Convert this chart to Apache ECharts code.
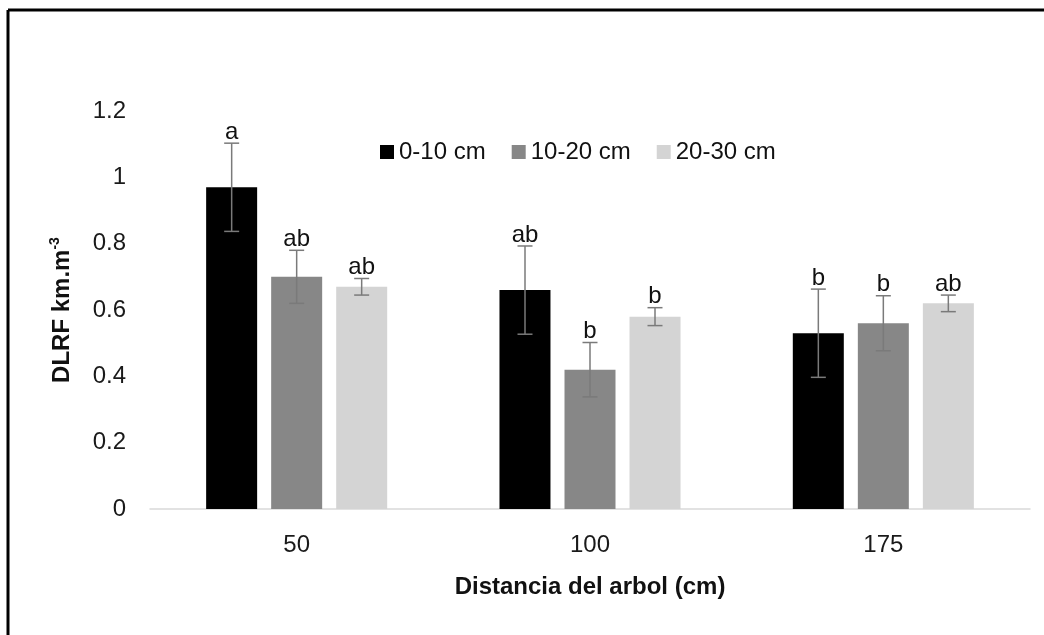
<!DOCTYPE html>
<html>
<head>
<meta charset="utf-8">
<script src="https://cdn.jsdelivr.net/npm/echarts@6/dist/echarts.min.js"></script>
<style>
html,body{margin:0;padding:0;background:#fff;}
#chart{width:1044px;height:635px;}
</style>
</head>
<body>
<div id="chart"></div>
<script>
const categories = ['50', '100', '175'];
const seriesNames = ['0-10 cm', '10-20 cm', '20-30 cm'];
const values0 = [0.97, 0.66, 0.53];
const values1 = [0.70, 0.42, 0.56];
const values2 = [0.67, 0.58, 0.62];
const errors0 = [0.133, 0.133, 0.133];
const errors1 = [0.08, 0.082, 0.083];
const errors2 = [0.025, 0.027, 0.025];
const letters0 = ['a', 'ab', 'b'];
const letters1 = ['ab', 'b', 'b'];
const letters2 = ['ab', 'b', 'ab'];
const yTicks = [0, 0.2, 0.4, 0.6, 0.8, 1, 1.2];

const FONT = 'Liberation Sans, Arial, sans-serif';
const colors = ['#000000', '#878787', '#d4d4d4'];
const BAR_W = 51, BAR_GAP = 14;
const allValues = [values0, values1, values2];
const allErrors = [errors0, errors1, errors2];
const allLetters = [letters0, letters1, letters2];

const chart = echarts.init(document.getElementById('chart'), null, {renderer: 'canvas'});

const barSeries = seriesNames.map((name, i) => ({
  name: name,
  type: 'bar',
  data: allValues[i],
  barWidth: BAR_W,
  barGap: (BAR_GAP / BAR_W * 100).toFixed(1) + '%',
  itemStyle: {color: colors[i]},
  z: 2
}));

const errSeries = seriesNames.map((name, i) => ({
  name: name + ' err',
  type: 'custom',
  z: 5,
  data: categories.map((c, k) => [k, allValues[i][k], allErrors[i][k]]),
  renderItem: function (params, api) {
    const k = api.value(0);
    const v = api.value(1);
    const e = api.value(2);
    const letter = allLetters[i][k];
    const off = (i - 1) * (BAR_W + BAR_GAP);
    const hi = api.coord([k, v + e]);
    const lo = api.coord([k, v - e]);
    const x = hi[0] + off;
    const cap = 7.5;
    const st = {stroke: '#7a7a7a', lineWidth: 1.5};
    return {
      type: 'group',
      children: [
        {type: 'line', shape: {x1: x, y1: hi[1], x2: x, y2: lo[1]}, style: st},
        {type: 'line', shape: {x1: x - cap, y1: hi[1], x2: x + cap, y2: hi[1]}, style: st},
        {type: 'line', shape: {x1: x - cap, y1: lo[1], x2: x + cap, y2: lo[1]}, style: st},
        {type: 'text', x: x, y: hi[1] + 1,
         style: {text: letter, fontFamily: FONT, fontSize: 24, fill: '#111',
                 align: 'center', verticalAlign: 'bottom'}}
      ]
    };
  }
}));

const option = {
  animation: false,
  backgroundColor: '#ffffff',
  textStyle: {fontFamily: FONT},
  grid: {left: 150, right: 14, top: 111, bottom: 126, containLabel: false},
  legend: {
    data: seriesNames,
    left: 380, top: 140,
    padding: 0,
    itemWidth: 14, itemHeight: 14, itemGap: 26,
    icon: 'rect',
    textStyle: {fontFamily: FONT, fontSize: 24, color: '#111'}
  },
  xAxis: {
    type: 'category',
    data: categories,
    axisLine: {show: true, lineStyle: {color: '#d9d9d9', width: 1.5}},
    axisTick: {show: false},
    axisLabel: {fontFamily: FONT, fontSize: 24, color: '#1a1a1a', margin: 24},
    name: 'Distancia del arbol (cm)',
    nameLocation: 'middle',
    nameGap: 66,
    nameTextStyle: {fontFamily: FONT, fontSize: 24, fontWeight: 'bold', color: '#111'}
  },
  yAxis: {
    type: 'value',
    min: yTicks[0], max: yTicks[yTicks.length - 1], interval: 0.2,
    axisLine: {show: false},
    axisTick: {show: false},
    splitLine: {show: false},
    axisLabel: {fontFamily: FONT, fontSize: 24, color: '#1a1a1a', margin: 24,
      formatter: v => String(Math.round(v * 10) / 10)},
    name: '{b|DLRF km.m}{s|-3}',
    nameLocation: 'middle',
    nameGap: 74,
    nameRotate: 90,
    nameTextStyle: {
      rich: {
        b: {fontFamily: FONT, fontSize: 24, fontWeight: 'bold', color: '#111', lineHeight: 28},
        s: {fontFamily: FONT, fontSize: 14, fontWeight: 'bold', color: '#111', verticalAlign: 'top', lineHeight: 28}
      }
    }
  },
  graphic: [
    {type: 'line', shape: {x1: 8, y1: 10, x2: 1044, y2: 10}, style: {stroke: '#000', lineWidth: 3}, z: 100},
    {type: 'line', shape: {x1: 8, y1: 10, x2: 8, y2: 635}, style: {stroke: '#000', lineWidth: 3}, z: 100}
  ],
  series: barSeries.concat(errSeries)
};
chart.setOption(option);
</script>
</body>
</html>
